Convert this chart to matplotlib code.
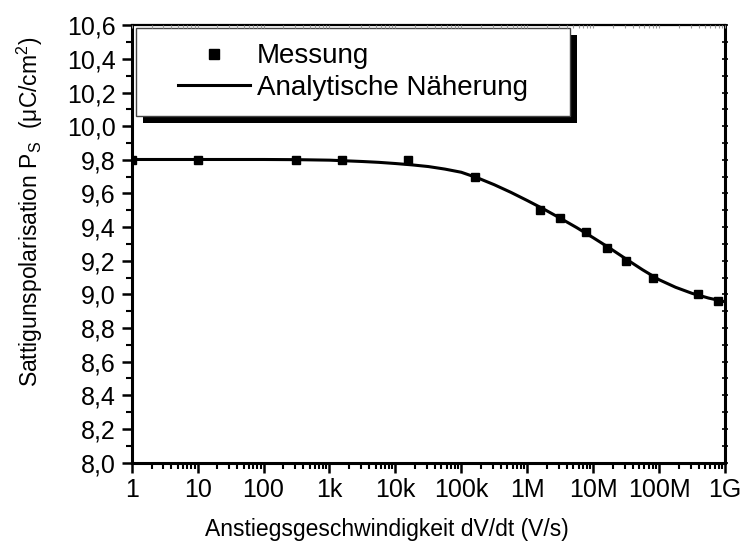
import matplotlib
matplotlib.use("Agg")
import matplotlib.pyplot as plt
from matplotlib.ticker import FixedLocator, LogLocator, NullFormatter, MultipleLocator, FuncFormatter
from matplotlib.patches import Rectangle

plt.rcParams['font.family'] = ['Liberation Sans', 'DejaVu Sans']
plt.rcParams['mathtext.fontset'] = 'custom'
plt.rcParams['mathtext.rm'] = 'Liberation Sans'

# Measured saturation polarisation vs. slew rate
rate = [1, 10, 316, 1.55e3, 1.57e4, 1.62e5, 1.56e6, 3.16e6, 7.8e6, 1.6e7, 3.2e7, 8.2e7, 3.94e8, 7.94e8]
ps = [9.80, 9.80, 9.797, 9.797, 9.797, 9.70, 9.50, 9.452, 9.369, 9.277, 9.198, 9.095, 9.00, 8.962]

# Analytic approximation, sampled per quarter decade
fit_rate = [1, 3.16, 10, 31.6, 100, 316, 1e3, 1.78e3, 3.16e3, 5.62e3, 1e4, 1.78e4, 3.16e4, 5.62e4,
            1e5, 1.78e5, 3.16e5, 5.62e5, 1e6, 1.78e6, 3.16e6, 5.62e6, 1e7, 1.78e7, 3.16e7, 5.62e7,
            1e8, 1.78e8, 3.16e8, 5.62e8, 1e9]
fit_ps = [9.802, 9.802, 9.802, 9.802, 9.802, 9.801, 9.798, 9.794, 9.790, 9.785, 9.778, 9.770, 9.760, 9.745,
          9.726, 9.692, 9.652, 9.607, 9.558, 9.507, 9.453, 9.397, 9.337, 9.275, 9.210, 9.146,
          9.087, 9.042, 9.006, 8.978, 8.956]

x_ticks = [1, 10, 100, 1e3, 1e4, 1e5, 1e6, 1e7, 1e8, 1e9]
x_labels = ["1", "10", "100", "1k", "10k", "100k", "1M", "10M", "100M", "1G"]

W, H = 744, 546
fig = plt.figure(figsize=(W / 100, H / 100), dpi=100)
L, R, T, B = 131.7, 725.0, 25.3, 462.5
ax = fig.add_axes([L / W, 1 - B / H, (R - L) / W, (B - T) / H])

ax.plot(fit_rate, fit_ps, color='black', lw=2.2, zorder=3)
ax.plot(rate, ps, ls='none', marker='s', ms=6.2, color='black', zorder=4)

ax.set_xscale('log')
ax.set_xlim(1, 1e9)
ax.set_ylim(8.0, 10.6)

ax.xaxis.set_major_locator(FixedLocator(x_ticks))
ax.set_xticklabels(x_labels)
ax.xaxis.set_minor_locator(LogLocator(base=10, subs=range(2, 10), numticks=100))
ax.xaxis.set_minor_formatter(NullFormatter())
ax.yaxis.set_major_locator(MultipleLocator(0.2))
ax.yaxis.set_minor_locator(MultipleLocator(0.1))
ax.yaxis.set_major_formatter(FuncFormatter(lambda v, p: f"{v:.1f}".replace('.', ',')))

ax.tick_params(which='major', direction='out', length=7, width=1.8, labelsize=18, pad=4.5)
ax.tick_params(which='minor', direction='out', length=4, width=1.5)
ax.tick_params(axis='x', which='major', pad=4)

for side in ['left', 'bottom', 'right']:
    ax.spines[side].set_linewidth(2.2)
ax.spines['top'].set_linewidth(1.6)

# right-hand ticks crossing the frame
axr = ax.twinx()
axr.set_ylim(ax.get_ylim())
axr.yaxis.set_major_locator(MultipleLocator(0.2))
axr.yaxis.set_minor_locator(MultipleLocator(0.1))
axr.tick_params(which='both', direction='inout', length=4, width=1.2, labelright=False)
for s in axr.spines.values():
    s.set_visible(False)

# faint top ticks
axt = ax.twiny()
axt.set_xscale('log')
axt.set_xlim(ax.get_xlim())
axt.xaxis.set_major_locator(FixedLocator(x_ticks))
axt.xaxis.set_minor_locator(LogLocator(base=10, subs=range(2, 10), numticks=100))
axt.xaxis.set_minor_formatter(NullFormatter())
axt.tick_params(which='both', direction='in', length=2.5, width=0.8, color='#999999', labeltop=False)
for s in axt.spines.values():
    s.set_visible(False)

ax.set_xlabel("Anstiegsgeschwindigkeit dV/dt (V/s)", fontsize=16.5)
ax.xaxis.set_label_coords((387 - L) / (R - L), -(518 - B) / (B - T), transform=ax.transAxes)
ax.set_ylabel("Sattigunspolarisation P$_\\mathregular{S}$  (μC/cm$^\\mathregular{2}$)", fontsize=16.5)
ax.yaxis.set_label_coords(-(131.7 - 45) / (R - L), 1 - (212 - T) / (B - T), transform=ax.transAxes)

# legend box with solid shadow
fx0, fx1 = (135.5 - L) / (R - L), (570 - L) / (R - L)
fy1, fy0 = 1 - (28 - T) / (B - T), 1 - (116 - T) / (B - T)
dx, dy = 7 / (R - L), 7 / (B - T)
ax.add_patch(Rectangle((fx0 + dx, fy0 - dy), fx1 - fx0, fy1 - fy0, transform=ax.transAxes,
                       facecolor='black', edgecolor='none', zorder=5, clip_on=False))
ax.add_patch(Rectangle((fx0, fy0), fx1 - fx0, fy1 - fy0, transform=ax.transAxes,
                       facecolor='white', edgecolor='#444444', lw=1.0, zorder=6, clip_on=False))

h_meas, = ax.plot([], [], ls='none', marker='s', ms=7, color='black')
h_fit, = ax.plot([], [], color='black', lw=2.2)
leg = ax.legend([h_meas, h_fit], ["Messung", "Analytische Näherung"], frameon=False,
                loc='center left', bbox_to_anchor=((178 - L) / (R - L), 1 - (72 - T) / (B - T)),
                fontsize=20, handlelength=2.6, handletextpad=0.25, labelspacing=0.2,
                borderpad=0, borderaxespad=0)
leg.set_zorder(7)

fig.savefig("out.png", dpi=100)
